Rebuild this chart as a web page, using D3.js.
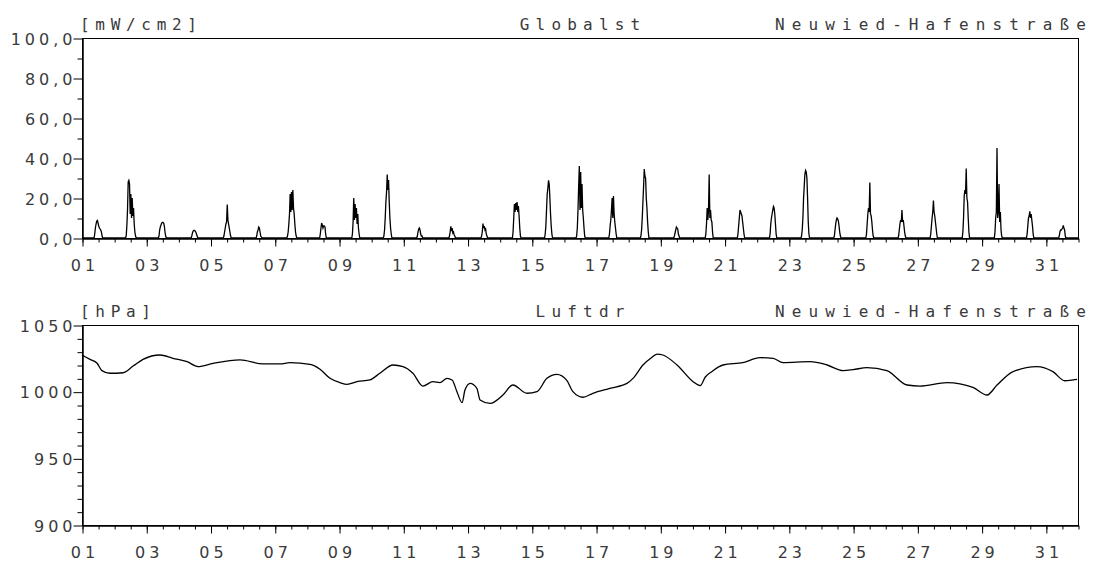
<!DOCTYPE html>
<html><head><meta charset="utf-8">
<script src="https://cdn.jsdelivr.net/npm/d3@7"></script>
<style>body{margin:0;background:#fff}svg{display:block}</style>
</head><body>
<svg id="chart" width="1093" height="566"></svg>
<script>
// ---------- DATA ----------
const stationName = "Neuwied-Hafenstraße";
const solarTitle = "Globalst";
const solarUnit = "[mW/cm2]";
const pressureTitle = "Luftdr";
const pressureUnit = "[hPa]";

const dayLabelDays = [1,3,5,7,9,11,13,15,17,19,21,23,25,27,29,31];
const dayLabels = ["01","03","05","07","09","11","13","15","17","19","21","23","25","27","29","31"];
const solarMajorTicks = [0,20,40,60,80,100];
const solarTickLabels = ["0,0","20,0","40,0","60,0","80,0","100,0"];
const solarMinorTicks = [10,30,50,70,90];
const pressureMajorTicks = [900,950,1000,1050];
const pressureTickLabels = ["900","950","1000","1050"];
const pressureMinorTicks = [910,920,930,940,960,970,980,990,1010,1020,1030,1040];

// global radiation, half-hourly from 08:30 to 16:30 for each day of the month
const solarStartHour = 8.5;
const solarStepHours = 0.5;
const solarDaily = [
  [0,0,2,5,7,8.5,8.8,7.5,6,5,4.5,4,3,1,0,0,0],
  [0,1,6,14,28,28.8,27,12,22,10,20,11,15,7,3,1,0],
  [0,0,1,4,5.5,6.5,7.5,7.8,7.8,7.5,6,3,1,0,0,0,0],
  [0,0,0,1,2.5,3.5,3.8,3.8,3.5,3,2,1,0,0,0,0,0],
  [0,0,0,1,3,5,7,8,16.7,9,7,5,3,1,0,0,0],
  [0,0,0,0,1,3,4,5.5,5,3,1,0.5,0,0,0,0,0],
  [0,0,1,3,7,12,22,13,23,14,24,15,12,7,3,1,0],
  [0,0,0,2,5,7.5,6.5,5,6,6,5.5,2,0,0,0,0,0],
  [0,0,0,2,8,20,9,17,10,15,7,12,5,2,0,0,0],
  [0,0,1,4,10,18,23,31.7,24,29,18,10,5,2,0,0,0],
  [0,0,0,0,1,3,4.5,5,4,2,1,1,0,0,0,0,0],
  [0,0,0,0,1,3,5.8,3.5,5,2.5,3,1.5,1,0,0,0,0],
  [0,0,0,0,1,3,7.2,5,6,4,4.5,2,1,0,0,0,0],
  [0,0,0,3,10,17,13,17.5,14,18,13,16,11,5,1,0,0],
  [0,0,0,2,6,14,22,25,28.8,27,20,12,6,2,0,0,0],
  [0,0,1,5,14,26,36,14,33,15,27,14,10,5,1,0,0],
  [0,0,0,2,6,9,14,20,10,21,12,8,5,2,0,0,0],
  [0,0,1,4,10,18,26,34.5,31,30,20,15,8,3,0,0,0],
  [0,0,0,0,1,2.5,4,5.5,5,4.5,2,1,0,0,0,0,0],
  [0,0,0,2,7,15,9,14,31.7,10,14,9,8,3,0,0,0],
  [0,0,0,2,6,10,14,13,12,11,8,5,2,0,0,0,0],
  [0,0,0,2,7,10,12,14,15.8,15,12,7,2,0,0,0,0],
  [0,0,1,4,10,20,26,32,33.8,33,30,20,8,2,0,0,0],
  [0,0,0,1,4,7,9,10,9.5,8.5,6,3,1,0,0,0,0],
  [0,0,0,2,7,12,15,13,27.8,12,11,8,4,1,0,0,0],
  [0,0,0,1,4,7,9,8,14,8,9,6,3,1,0,0,0],
  [0,0,0,2,6,10,13,18.7,13,11,8,5,2,0,0,0,0],
  [0,0,0,3,10,21,24,22,34.8,20,18,10,3,0,0,0,0],
  [0,0,0,3,10,13,45,10,13,27,8,13,4,1,0,0,0],
  [0,0,0,2,6,10,11,13.3,10,12,9,6,2,0,0,0,0],
  [0,0,0,1,3,4,4,4.5,5,6.3,5,4,1,0,0,0,0]
];

// air pressure: time (day of month + fraction) and value in hPa
const pressureTimes = [1.00,1.25,1.47,1.62,1.87,2.28,2.59,2.90,3.43,3.83,4.27,4.61,5.08,5.92,6.63,7.16,7.47,8.10,8.41,8.72,9.03,9.25,9.56,9.96,10.27,10.68,10.99,11.30,11.61,11.92,12.14,12.36,12.52,12.67,12.83,12.92,13.08,13.29,13.39,13.70,14.10,14.41,14.85,15.16,15.47,15.78,16.09,16.28,16.59,16.90,17.43,17.96,18.15,18.46,18.70,18.90,19.08,19.52,20.02,20.24,20.40,20.60,20.95,21.57,22.10,22.51,22.82,23.66,24.19,24.69,25.00,25.43,26.05,26.68,27.08,27.92,28.73,29.17,29.48,29.98,30.72,31.22,31.59,31.97];
const pressureValues = [1027.5,1024.2,1021.3,1015.8,1013.8,1014.2,1019.2,1024.2,1027.5,1025.0,1022.5,1018.8,1021.2,1023.8,1020.8,1020.8,1021.8,1020.5,1016.8,1010.0,1006.8,1005.5,1007.5,1008.8,1013.8,1020.0,1018.8,1013.8,1004.2,1007.5,1006.8,1010.0,1008.8,1000.0,991.8,1001.2,1006.2,1002.5,993.8,991.2,997.5,1005.0,998.8,1000.0,1010.0,1013.0,1008.5,1000.0,995.8,998.8,1002.5,1006.2,1010.0,1020.0,1025.0,1028.2,1027.5,1020.0,1007.5,1004.5,1011.0,1015.0,1020.0,1021.8,1025.5,1025.0,1021.8,1022.5,1020.0,1015.8,1016.5,1018.0,1015.8,1005.0,1004.2,1006.8,1003.2,997.5,1005.0,1015.0,1018.8,1015.0,1008.2,1009.2];

// ---------- DRAWING ----------
const svg = d3.select("#chart");
const X0 = 82, X1 = 1078;
const numFont = "DejaVu Sans", numSize = 16, numLS = 4;
const titleFont = "DejaVu Sans Mono", titleSize = 16;
const textColor = "#3a3a3a";

const x = d3.scaleLinear().domain([1, 32]).range([X0, X1]);

function panel(cfg) {
  const y = d3.scaleLinear().domain(cfg.domain).range([cfg.bottom, cfg.top]);
  const g = svg.append("g");

  g.append("rect").attr("x", X0 + 0.5).attr("y", cfg.top + 0.5)
    .attr("width", X1 - X0).attr("height", cfg.bottom - cfg.top)
    .attr("fill", "none").attr("stroke", "#000").attr("stroke-width", 1);

  const halfDays = d3.range(1, 32.001, 0.5);
  const xMinor = d3.axisBottom(x).tickValues(halfDays).tickSize(4).tickSizeOuter(0).tickFormat("");
  const gxm = g.append("g").attr("transform", `translate(0.5,${cfg.bottom + 0.5})`).call(xMinor);
  const xMajor = d3.axisBottom(x).tickValues(dayLabelDays).tickSize(8).tickSizeOuter(0)
    .tickFormat((d, i) => dayLabels[i]).tickPadding(13);
  const gx = g.append("g").attr("transform", `translate(0.5,${cfg.bottom + 0.5})`).call(xMajor);
  [gxm, gx].forEach(a => { a.select(".domain").attr("stroke", "#000"); a.selectAll(".tick line").attr("stroke", "#000"); });
  gx.selectAll(".tick text")
    .attr("font-family", numFont).attr("font-size", numSize).attr("fill", textColor)
    .attr("letter-spacing", numLS).attr("dx", numLS / 2).attr("dy", "0.71em");

  const yMinor = d3.axisLeft(y).tickValues(cfg.minor).tickSize(5).tickSizeOuter(0).tickFormat("");
  const gym = g.append("g").attr("transform", `translate(${X0 + 0.5},0.5)`).call(yMinor);
  const yMajor = d3.axisLeft(y).tickValues(cfg.major).tickSize(9).tickSizeOuter(0)
    .tickFormat((d, i) => cfg.labels[i]).tickPadding(1);
  const gy = g.append("g").attr("transform", `translate(${X0 + 0.5},0.5)`).call(yMajor);
  [gym, gy].forEach(a => { a.select(".domain").attr("stroke", "#000"); a.selectAll(".tick line").attr("stroke", "#000"); });
  gy.selectAll(".tick text")
    .attr("font-family", numFont).attr("font-size", numSize).attr("fill", textColor)
    .attr("letter-spacing", numLS).attr("dx", numLS).attr("dy", "0.36em");

  const tAttrs = (s, ls) => s.attr("font-family", titleFont).attr("font-size", titleSize)
    .attr("fill", textColor).attr("letter-spacing", ls);
  g.append("text").attr("x", 80).attr("y", cfg.top - 8).text(cfg.unit).call(tAttrs, 5.7);
  g.append("text").attr("x", (X0 + X1) / 2 + 3.1).attr("y", cfg.top - 8)
    .attr("text-anchor", "middle").text(cfg.title).call(tAttrs, 6.2);
  g.append("text").attr("x", 775).attr("y", cfg.top - 8)
    .text(stationName).call(tAttrs, 7.1);

  const line = d3.line().x(d => x(d.t)).y(d => y(d.v)).curve(cfg.curve);
  g.append("path").datum(cfg.series).attr("d", line)
    .attr("fill", "none").attr("stroke", "#000").attr("stroke-width", 1.3);
}

const solarSeries = [{ t: 1, v: 0 }];
solarDaily.forEach((vals, i) => {
  vals.forEach((v, j) => solarSeries.push({ t: 1 + i + (solarStartHour + j * solarStepHours) / 24, v }));
});
solarSeries.push({ t: 32, v: 0 });

const pressureSeries = pressureTimes.map((t, i) => ({ t, v: pressureValues[i] }));

panel({ top: 38, bottom: 238, domain: [0, 100], major: solarMajorTicks, labels: solarTickLabels,
  minor: solarMinorTicks, unit: solarUnit, title: solarTitle, series: solarSeries, curve: d3.curveLinear });
panel({ top: 325, bottom: 525, domain: [900, 1050], major: pressureMajorTicks, labels: pressureTickLabels,
  minor: pressureMinorTicks, unit: pressureUnit, title: pressureTitle, series: pressureSeries, curve: d3.curveMonotoneX });
</script>
</body></html>
